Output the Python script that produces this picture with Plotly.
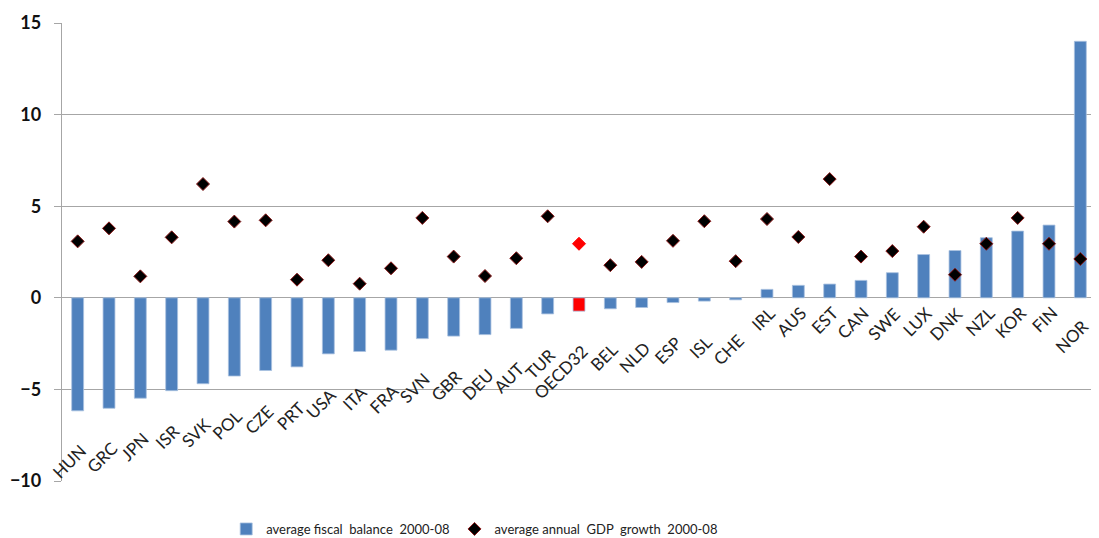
import plotly.graph_objects as go

countries = ["HUN", "GRC", "JPN", "ISR", "SVK", "POL", "CZE", "PRT", "USA", "ITA",
             "FRA", "SVN", "GBR", "DEU", "AUT", "TUR", "OECD32", "BEL", "NLD", "ESP",
             "ISL", "CHE", "IRL", "AUS", "EST", "CAN", "SWE", "LUX", "DNK", "NZL",
             "KOR", "FIN", "NOR"]
fiscal_balance = [-6.17, -6.03, -5.48, -5.07, -4.69, -4.27, -3.97, -3.77, -3.06, -2.93,
                  -2.86, -2.23, -2.09, -2.01, -1.67, -0.88, -0.73, -0.60, -0.53, -0.26,
                  -0.18, -0.11, 0.46, 0.68, 0.75, 0.95, 1.37, 2.36, 2.58, 3.28,
                  3.64, 3.97, 14.0]
gdp_growth = [3.08, 3.79, 1.17, 3.30, 6.21, 4.16, 4.23, 0.99, 2.05, 0.77,
              1.61, 4.36, 2.25, 1.19, 2.16, 4.45, 2.95, 1.78, 1.96, 3.11,
              4.18, 2.00, 4.30, 3.32, 6.48, 2.25, 2.55, 3.88, 1.26, 2.95,
              4.36, 2.95, 2.12]
y_ticks = [-10, -5, 0, 5, 10, 15]

BLUE = "#4F81BD"
RED = "#FF0000"
FONT = "Lato"

bar_colors = [RED if c == "OECD32" else BLUE for c in countries]
dia_colors = [RED if c == "OECD32" else "#000000" for c in countries]
dia_lines = [RED if c == "OECD32" else "#8B1A1A" for c in countries]

fig = go.Figure()
fig.add_trace(go.Bar(
    x=countries, y=fiscal_balance, name="average fiscal  balance  2000-08",
    marker=dict(color=bar_colors, line=dict(color="#A9C1E0", width=0.8)),
))
fig.add_trace(go.Scatter(
    x=countries, y=gdp_growth, mode="markers", name="average annual  GDP  growth  2000-08",
    marker=dict(symbol="diamond", size=10, color=dia_colors,
                line=dict(color=dia_lines, width=1)),
))

extra_drop = {"NOR": 13}
for c, v in zip(countries, fiscal_balance):
    drop = 27 if v < 0 else 2
    drop += extra_drop.get(c, 0)
    fig.add_annotation(
        x=c, y=min(v, 0), xref="x", yref="y", text=c, showarrow=False,
        textangle=-45, xanchor="right", yanchor="top", xshift=15, yshift=-drop,
        font=dict(family=FONT, size=17, color="#222222"),
    )

fig.update_layout(
    width=1091, height=530,
    margin=dict(l=54, r=3, t=15, b=57, autoexpand=False),
    paper_bgcolor="white", plot_bgcolor="white",
    bargap=0.62,
    showlegend=True,
    legend=dict(orientation="h", xref="container", yref="container",
                x=0.2, xanchor="left", y=0.017, yanchor="middle",
                font=dict(family=FONT, size=13, color="#222222"),
                bgcolor="rgba(0,0,0,0)"),
    font=dict(family=FONT),
)
fig.update_xaxes(showticklabels=False, showgrid=False, zeroline=False, showline=False,
                 ticks="", automargin=False, range=[-0.5, len(countries) - 0.5])
fig.update_yaxes(range=[-10, 15], tickvals=y_ticks, showgrid=True, gridcolor="#A6A6A6",
                 gridwidth=1.3, zeroline=False, showline=True, linecolor="#A6A6A6",
                 linewidth=1.3, ticks="outside", ticklen=7, tickcolor="#A6A6A6",
                 automargin=False, ticklabelstandoff=9,
                 tickfont=dict(family=FONT, size=18, color="#111111", weight="bold"))

fig.write_html("out.html")
